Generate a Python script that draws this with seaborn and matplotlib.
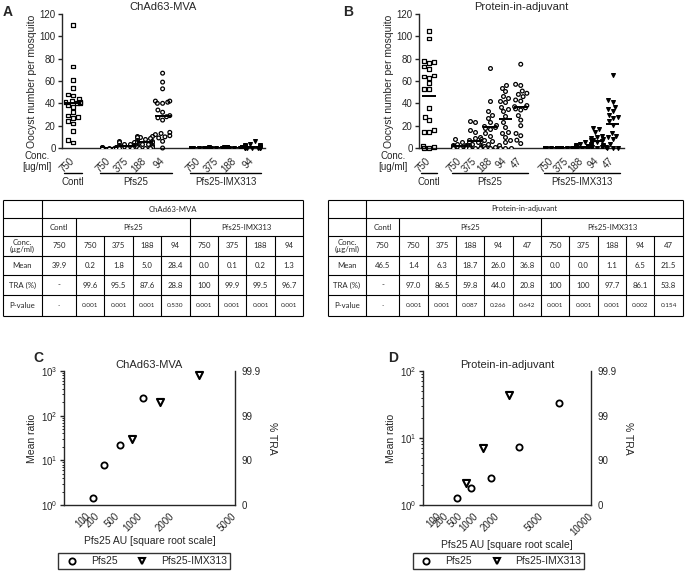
import warnings
import numpy as np
import matplotlib
matplotlib.use('Agg')
import matplotlib.pyplot as plt
from matplotlib.lines import Line2D
from matplotlib.ticker import LogLocator, NullFormatter, NullLocator
import seaborn as sns

warnings.filterwarnings('ignore')

# ---------------- panel A: ChAd63-MVA oocyst counts ----------------
a_conc_pfs25 = [750, 375, 188, 94]
a_conc_imx = [750, 375, 188, 94]
a_contl = [110, 73, 61, 54, 48, 47, 44, 42, 41, 41, 40, 40, 38, 37, 32, 29, 28, 27, 24, 22, 15, 7, 5]
a_pfs25 = [
    [1, 1, 1, 1, 0, 0, 0, 0, 0, 0, 0, 0, 0, 0, 0, 0, 0, 0, 0, 0],
    [6, 5, 5, 4, 4, 3, 3, 3, 2, 2, 2, 2, 1, 1, 1, 1, 0, 0, 0, 0, 0, 0],
    [11, 11, 10, 10, 9, 8, 7, 6, 6, 5, 5, 4, 4, 3, 3, 2, 2, 1, 1, 0, 0, 0],
    [67, 59, 53, 42, 42, 41, 40, 40, 34, 32, 29, 28, 27, 25, 14, 13, 12, 11, 10, 9, 6, 0],
]
a_imx = [
    [0, 0, 0, 0, 0, 0, 0, 0, 0, 0, 0, 0, 0, 0, 0, 0, 0, 0, 0, 0],
    [1, 1, 0, 0, 0, 0, 0, 0, 0, 0, 0, 0, 0, 0, 0, 0, 0, 0, 0, 0],
    [1, 1, 1, 1, 0, 0, 0, 0, 0, 0, 0, 0, 0, 0, 0, 0, 0, 0, 0, 0],
    [6, 4, 3, 3, 2, 2, 2, 1, 1, 1, 1, 0, 0, 0, 0, 0, 0, 0, 0, 0],
]
a_mean = [39.9, 0.2, 1.8, 5.0, 28.4, 0.0, 0.1, 0.2, 1.3]
a_tra = ['-', '99.6', '95.5', '87.6', '28.8', '100', '99.9', '99.5', '96.7']
a_pval = ['-', '0.001', '0.001', '0.001', '0.530', '0.001', '0.001', '0.001', '0.001']

# ---------------- panel B: Protein-in-adjuvant oocyst counts ----------------
b_conc_pfs25 = [750, 375, 188, 94, 47]
b_conc_imx = [750, 375, 188, 94, 47]
b_contl = [105, 98, 78, 77, 76, 73, 71, 65, 64, 63, 58, 53, 53, 36, 28, 25, 16, 14, 14, 2, 1, 0, 0]
b_pfs25 = [
    [8, 5, 4, 3, 3, 2, 2, 2, 1, 1, 1, 1, 0, 0, 0, 0, 0, 0, 0, 0, 0, 0, 0],
    [24, 23, 16, 14, 10, 9, 8, 7, 6, 5, 5, 4, 3, 2, 2, 1, 1, 0, 0, 0, 0, 0],
    [72, 42, 33, 30, 27, 23, 21, 20, 19, 18, 17, 13, 11, 7, 6, 4, 2, 1, 0, 0],
    [56, 54, 51, 47, 45, 42, 41, 37, 35, 33, 29, 23, 19, 14, 13, 10, 7, 5, 3, 0, 0, 0],
    [75, 57, 56, 51, 49, 48, 46, 43, 42, 38, 37, 36, 35, 34, 29, 25, 20, 13, 11, 7, 4],
]
b_imx = [
    [0, 0, 0, 0, 0, 0, 0, 0, 0, 0, 0, 0, 0, 0, 0, 0, 0, 0, 0, 0],
    [0, 0, 0, 0, 0, 0, 0, 0, 0, 0, 0, 0, 0, 0, 0, 0, 0, 0, 0, 0],
    [5, 4, 3, 2, 2, 2, 1, 1, 1, 1, 0, 0, 0, 0, 0, 0, 0, 0, 0, 0],
    [18, 17, 14, 11, 10, 9, 8, 7, 7, 6, 5, 4, 3, 3, 2, 2, 1, 1, 0],
    [65, 43, 41, 37, 35, 33, 30, 28, 27, 24, 21, 13, 11, 10, 8, 4, 1, 0, 0, 0],
]
b_mean = [46.5, 1.4, 6.3, 18.7, 26.0, 36.8, 0.0, 0.0, 1.1, 6.5, 21.5]
b_tra = ['-', '97.0', '86.5', '59.8', '44.0', '20.8', '100', '100', '97.7', '86.1', '53.8']
b_pval = ['-', '0.001', '0.001', '0.087', '0.266', '0.642', '0.001', '0.001', '0.001', '0.002', '0.154']

# ---------------- panels C / D: mean ratio vs Pfs25 AU ----------------
c_pfs25_au = [1080, 530, 270, 140]
c_pfs25_ratio = [250, 22.2, 8.06, 1.40]
c_imx_au = [800, 1590, 3120]
c_imx_ratio = [30.3, 200, 812]
d_pfs25_au = [400, 820, 1640, 3290, 6550]
d_pfs25_ratio = [1.26, 1.79, 2.49, 7.4, 33.3]
d_imx_au = [645, 1290, 2620]
d_imx_ratio = [2.16, 7.19, 43.5]
tra_ticks = ['0', '90', '99', '99.9']

sns.set_style('ticks')
plt.rcParams['font.family'] = ['Liberation Sans', 'DejaVu Sans']
plt.rcParams['axes.linewidth'] = 1.0

W, H = 685, 571
fig = plt.figure(figsize=(W / 100, H / 100), dpi=100)


def px_axes(x0, y0, x1, y1):
    return fig.add_axes([x0 / W, 1 - y1 / H, (x1 - x0) / W, (y1 - y0) / H])


def dots(ax, pos, groups, marker, filled):
    xs, ys = [], []
    for p, g in zip(pos, groups):
        xs += [p] * len(g)
        ys += g
    sns.swarmplot(x=xs, y=ys, native_scale=True, orient='x', marker=marker, size=2.7,
                  color='black' if filled else 'white', edgecolor='black',
                  linewidth=0.9, ax=ax)
    coll = ax.collections[-1]
    if not filled:
        coll.set_facecolor('none')
    coll.set_clip_on(False)


def oocyst_panel(ax, title, letter, contl, pfs, imx, conc_pfs, conc_imx, means, xlim,
                 conc_x, letter_x):
    n = len(pfs)
    pos_c = [0]
    pos_p = list(range(2, 2 + n))
    pos_i = list(range(3 + n, 3 + 2 * n))
    dots(ax, pos_c, [contl], 's', False)
    dots(ax, pos_p, pfs, 'o', False)
    dots(ax, pos_i, imx, 'v', True)
    allpos = np.array(pos_c + pos_p + pos_i)
    ax.hlines(means, allpos - 0.45, allpos + 0.45, color='black', lw=1.4, zorder=5)
    ax.set_xlim(*xlim)
    ax.set_ylim(0, 120)
    ax.set_yticks(range(0, 121, 20))
    ax.set_xticks(allpos)
    ax.set_xticklabels([750] + conc_pfs + conc_imx, rotation=45, ha='right',
                       va='center', rotation_mode='anchor', fontsize=7)
    ax.tick_params(axis='x', length=0, pad=8)
    ax.tick_params(axis='y', length=3, width=1, labelsize=7, pad=1.5)
    ax.set_ylabel('Oocyst number per mosquito', fontsize=7.5, labelpad=2)
    ax.set_title(title, fontsize=8, pad=3)
    sns.despine(ax=ax)
    tr = ax.get_xaxis_transform()
    for a, b, lab in [(pos_c[0], pos_c[-1], 'Contl'), (pos_p[0], pos_p[-1], 'Pfs25'),
                      (pos_i[0], pos_i[-1], 'Pfs25-IMX313')]:
        ax.plot([a - 0.5, b + 0.5], [-0.187, -0.187], transform=tr, color='black',
                lw=1, clip_on=False)
        ax.text((a + b) / 2, -0.255, lab, transform=tr, ha='center', va='center', fontsize=7)
    ax.text(conc_x, -0.1, 'Conc.\n[ug/ml]', transform=ax.transAxes, ha='right',
            va='center', multialignment='center', fontsize=7, linespacing=1.2)
    ax.text(letter_x, 1.07, letter, transform=ax.transAxes, fontsize=10, fontweight='bold',
            ha='left', va='top')


axA = px_axes(62, 14, 265, 148)
oocyst_panel(axA, 'ChAd63-MVA', 'A', a_contl, a_pfs25, a_imx, a_conc_pfs25, a_conc_imx,
             a_mean, (-0.6, 10.7), -0.05, -0.29)
axB = px_axes(419, 14, 624, 148)
oocyst_panel(axB, 'Protein-in-adjuvant', 'B', b_contl, b_pfs25, b_imx, b_conc_pfs25,
             b_conc_imx, b_mean, (-0.65, 12.75), -0.054, -0.37)


def ratio_panel(ax, title, letter, p_au, p_ratio, i_au, i_ratio, xmax, xticks, ymax,
                leg_x, letter_x):
    ax.set_xscale('function', functions=(lambda v: np.sqrt(np.clip(v, 0, None)), np.square))
    sns.scatterplot(x=p_au, y=p_ratio, marker='o', s=20, color='white', edgecolor='black',
                    linewidth=1.3, ax=ax, zorder=4, clip_on=False)
    sns.scatterplot(x=i_au, y=i_ratio, marker='v', s=26, color='white', edgecolor='black',
                    linewidth=1.5, ax=ax, zorder=4, clip_on=False)
    ax.set_yscale('log')
    ax.set_xlim(0, xmax)
    ax.set_ylim(1, ymax)
    ax.set_xticks(xticks)
    ax.set_xticklabels([str(t) for t in xticks], rotation=45, ha='right', va='center',
                       rotation_mode='anchor', fontsize=7)
    ax.xaxis.set_minor_locator(NullLocator())
    ax.yaxis.set_major_locator(LogLocator(base=10))
    ax.yaxis.set_minor_locator(LogLocator(base=10, subs=np.arange(2, 10)))
    ax.yaxis.set_minor_formatter(NullFormatter())
    ax.tick_params(axis='x', length=0, pad=7)
    ax.tick_params(axis='y', which='major', length=3, width=1, labelsize=7, pad=1.5)
    ax.tick_params(axis='y', which='minor', length=1.8, width=0.7)
    ax.set_xlabel('Pfs25 AU [square root scale]', fontsize=7.5, labelpad=2)
    ax.set_ylabel('Mean ratio', fontsize=7.5, labelpad=3)
    ax.set_title(title, fontsize=8, pad=2)
    sns.despine(ax=ax, top=True, right=True)
    ax2 = ax.twinx()
    ax2.set_yscale('log')
    ax2.set_ylim(1, 1000)
    ax2.set_yticks([1, 10, 100, 1000])
    ax2.set_yticklabels(tra_ticks)
    ax2.yaxis.set_minor_locator(NullLocator())
    ax2.tick_params(axis='y', length=3, width=1, labelsize=7, pad=1.5)
    ax2.set_ylabel('% TRA', rotation=270, fontsize=7.5, labelpad=12)
    sns.despine(ax=ax2, left=True, bottom=True, right=False, top=True)
    handles = [Line2D([], [], marker='o', ls='', mfc='white', mec='black', mew=1.3, ms=4.5),
               Line2D([], [], marker='v', ls='', mfc='white', mec='black', mew=1.5, ms=5)]
    leg = ax.legend(handles, ['Pfs25', 'Pfs25-IMX313'], loc='center', ncol=2,
                    bbox_to_anchor=(leg_x, -0.42), frameon=True, fancybox=False,
                    edgecolor='black', fontsize=7.5, handletextpad=0.8, columnspacing=1.4,
                    borderpad=0.3)
    leg.get_frame().set_linewidth(1.0)
    ax.text(letter_x, 1.15, letter, transform=ax.transAxes, fontsize=10, fontweight='bold',
            ha='left', va='top')


axC = px_axes(64, 371, 235, 505)
ratio_panel(axC, 'ChAd63-MVA', 'C', c_pfs25_au, c_pfs25_ratio, c_imx_au, c_imx_ratio,
            5000, [100, 200, 500, 1000, 2000, 5000], 1000, 0.47, -0.18)
axD = px_axes(423, 371, 591, 505)
ratio_panel(axD, 'Protein-in-adjuvant', 'D', d_pfs25_au, d_pfs25_ratio, d_imx_au,
            d_imx_ratio, 10000, [100, 200, 500, 1000, 2000, 5000, 10000], 100, 0.45, -0.21)

# ---------------- tables ----------------
ov = fig.add_axes([0, 0, 1, 1], zorder=10)
ov.set_xlim(0, W)
ov.set_ylim(H, 0)
ov.axis('off')
ov.patch.set_alpha(0)

rows_y = [200, 218, 236, 256, 275, 295, 316]


def draw_table(xb, title, conc_pfs, conc_imx, means, tra, pval):
    n_p = len(conc_pfs)
    kw = dict(color='black', lw=0.8)
    ov.hlines(rows_y, xb[0], xb[-1], **kw)
    ov.vlines([xb[0], xb[1], xb[-1]], rows_y[0], rows_y[-1], **kw)
    ov.vlines([xb[2], xb[2 + n_p]], rows_y[1], rows_y[-1], **kw)
    ov.vlines(xb[3:2 + n_p] + xb[3 + n_p:-1], rows_y[2], rows_y[-1], **kw)
    cy = [(rows_y[i] + rows_y[i + 1]) / 2 for i in range(len(rows_y) - 1)]
    cx = [(xb[i] + xb[i + 1]) / 2 for i in range(len(xb) - 1)]
    tk = dict(ha='center', va='center', family=['Lato', 'DejaVu Sans'], fontsize=5.6)
    ov.text((xb[1] + xb[-1]) / 2, cy[0], title, **tk)
    ov.text(cx[1], cy[1], 'Contl', **tk)
    ov.text((xb[2] + xb[2 + n_p]) / 2, cy[1], 'Pfs25', **tk)
    ov.text((xb[2 + n_p] + xb[-1]) / 2, cy[1], 'Pfs25-IMX313', **tk)
    ov.text(cx[0], cy[2], 'Conc.\n(µg/ml)', linespacing=1.1, **tk)
    ov.text(cx[0], cy[3], 'Mean', **tk)
    ov.text(cx[0], cy[4], 'TRA (%)', **tk)
    ov.text(cx[0], cy[5], 'P-value', **tk)
    conc_all = [750] + conc_pfs + conc_imx
    for j in range(len(conc_all)):
        ov.text(cx[j + 1], cy[2], str(conc_all[j]), **tk)
        ov.text(cx[j + 1], cy[3], f'{means[j]:.1f}', **tk)
        ov.text(cx[j + 1], cy[4], tra[j], **tk)
        ov.text(cx[j + 1], cy[5], pval[j], **{**tk, 'fontsize': 4.6})


draw_table([3, 42, 76, 104, 133, 161, 190, 218, 246, 275, 303], 'ChAd63-MVA',
           a_conc_pfs25, a_conc_imx, a_mean, a_tra, a_pval)
draw_table([328, 366, 399, 428, 456, 484, 513, 541, 569, 598, 626, 654, 683],
           'Protein-in-adjuvant', b_conc_pfs25, b_conc_imx, b_mean, b_tra, b_pval)

fig.savefig('out.png', dpi=100, facecolor='white')
